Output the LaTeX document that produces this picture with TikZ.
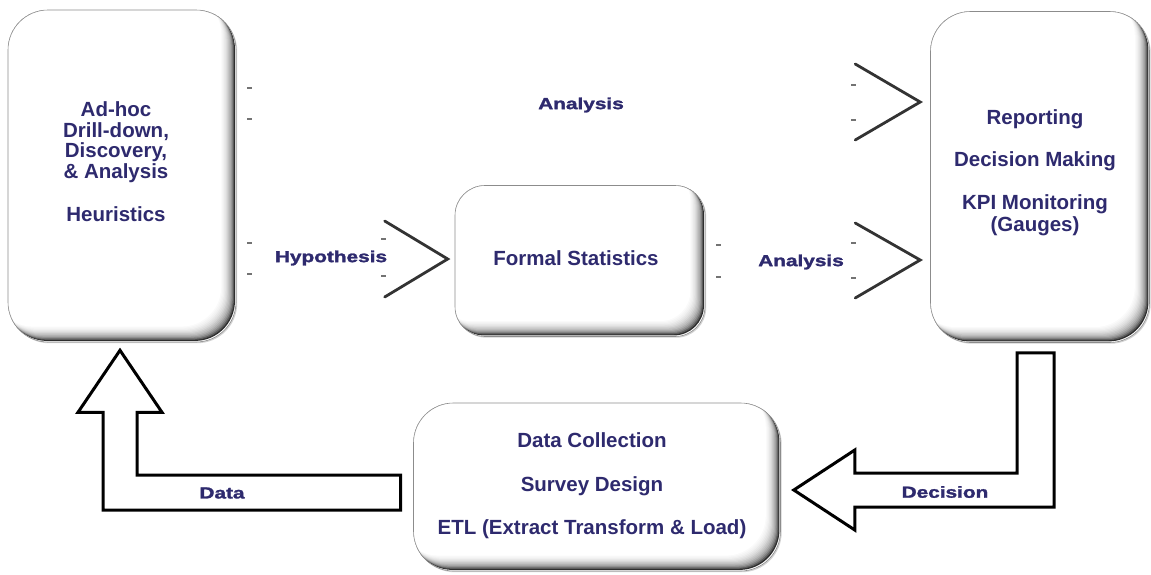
\documentclass[tikz,border=0pt]{standalone}
\usepackage{fontspec}
\setmainfont{Liberation Sans}
\newfontfamily\heavyfont[FakeBold=1.6]{Liberation Sans Bold}
\usetikzlibrary{calc,shadows}
\definecolor{ink}{RGB}{46,42,110}

\tikzset{
  % rounded white panel with a bevel on its lower right edge
  panel/.style={
    rounded corners=#1, fill=white, draw=black!45, line width=0.6pt,
    inner sep=0pt,
    drop shadow={shadow xshift=1.2pt, shadow yshift=-1.2pt, fill=black!35},
    path picture={
      \foreach \k/\c in {1/82,2/64,3/50,4/40,5/32,6/26,7/21,8/16,9/12,10/9,11/6,12/4,13/2,14/0}{
        \fill[black!\c, rounded corners=#1]
          ([xshift=-\k*1.05pt, yshift=\k*1.1pt]path picture bounding box.south west)
          rectangle
          ([xshift=-\k*1.05pt, yshift=\k*1.1pt]path picture bounding box.north east);
      }
    }
  },
  boxtext/.style={font=\bfseries\fontsize{20.5}{22}\selectfont, text=ink,
    align=center, inner sep=0pt},
  lbl/.style={font=\heavyfont\fontsize{16}{16}\selectfont, text=ink, inner sep=0pt},
  chev/.style={draw=black!80, line width=2.8pt, line cap=round, line join=miter},
  tick/.style={fill=black!55},
  block/.style={draw=black, fill=white, line width=3pt, line join=miter}
}
\newcommand{\wide}[1]{\scalebox{1.3}[1]{#1}}

\begin{document}
\begin{tikzpicture}[x=1pt, y=-1pt]
\useasboundingbox (0,0) rectangle (1151,574);

% panels
\node[panel=40pt, minimum width=228pt, minimum height=332pt] (adhoc) at (122,176) {};
\node[panel=30pt, minimum width=250pt, minimum height=151pt] (stats) at (580,261) {};
\node[panel=40pt, minimum width=219pt, minimum height=331pt] (rpt) at (1040,177) {};
\node[panel=40pt, minimum width=367pt, minimum height=168pt] (etl) at (597,487) {};

% panel texts
\node[boxtext, font=\bfseries\fontsize{20.5}{20.5}\selectfont] (adhocText)
  at ($(adhoc.center)+(-6,-14)$)
  {Ad-hoc\\Drill-down,\\Discovery,\\\& Analysis\\[23pt]Heuristics};
\node[boxtext] (statsText) at ($(stats.center)+(-4,-3)$) {Formal Statistics};
\node[boxtext] (rptText) at ($(rpt.center)+(-5,-4)$)
  {Reporting\\[20pt]Decision Making\\[21pt]KPI Monitoring\\(Gauges)};
\node[boxtext] (etlText) at ($(etl.center)+(-5,-1)$)
  {Data Collection\\[22pt]Survey Design\\[21pt]ETL (Extract Transform \& Load)};

% open chevrons pointing at the panels
\coordinate (hypTip) at ($(stats.west)+(-7,-2)$);
\coordinate (anaTopTip) at ($(rpt.west)+(-10,-75)$);
\coordinate (anaLowTip) at ($(rpt.west)+(-10,83)$);
\draw[chev] ($(hypTip)+(-63,-38)$) -- (hypTip) -- ($(hypTip)+(-63,38)$);
\draw[chev] ($(anaTopTip)+(-65,-38)$) -- (anaTopTip) -- ($(anaTopTip)+(-65,38)$);
\draw[chev] ($(anaLowTip)+(-65,-37)$) -- (anaLowTip) -- ($(anaLowTip)+(-65,38)$);

% small tick marks
\foreach \px/\py in {249/88, 249/119, 249/243, 249/274,
                     383/239, 383/276, 718/245, 718/277,
                     853/85, 853/120, 853/243, 853/278}
  \fill[tick] (\px-2.5,\py-1.4) rectangle (\px+2.5,\py+1.4);

% connector labels
\node[lbl] (lAnaTop) at (581,105) {\wide{Analysis}};
\node[lbl] (lHyp) at (331,258) {\wide{Hypothesis}};
\node[lbl] (lAnaLow) at (801,262) {\wide{Analysis}};

% block arrow: decision -> data collection
\coordinate (decStart) at ($(rpt.south)+(-4.5,10)$);
\coordinate (decTip) at ($(etl.east)+(13,3)$);
\draw[block] (decTip) -- ++(61,-40) -- ++(0,23)
  -| ($(decStart)+(-18.5,0)$) -- ++(37,0)
  |- ($(decTip)+(61,17)$) -- ++(0,23) -- cycle;
\node[lbl] (lDec) at (945,492) {\wide{Decision}};

% block arrow: data collection -> ad-hoc analysis
\coordinate (dataTip) at ($(adhoc.south)+(-2,8)$);
\coordinate (dataEnd) at ($(etl.west)+(-12.5,5.5)$);
\draw[block] (dataTip) -- ++(42,62) -- ++(-25,0)
  |- ($(dataEnd)+(0,-17.5)$) -- ++(0,35)
  -| ($(dataTip)+(-17,62)$) -- ++(-25,0) -- cycle;
\node[lbl] (lData) at (222,493) {\wide{Data}};
\end{tikzpicture}
\end{document}
